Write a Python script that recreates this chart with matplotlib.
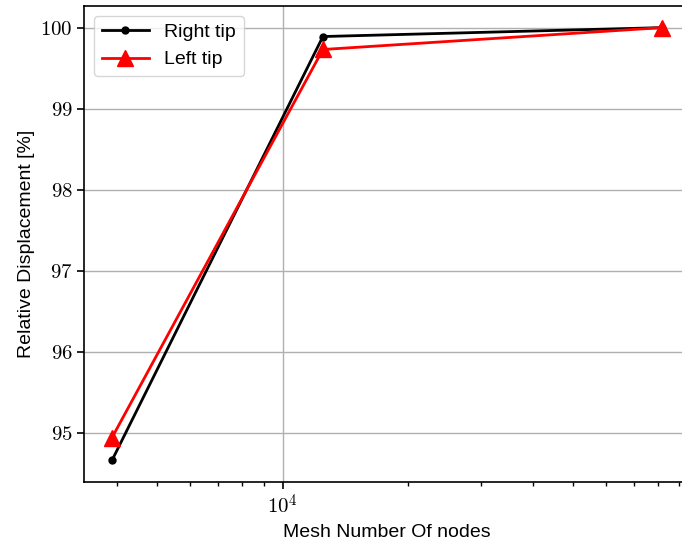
import numpy as np
import matplotlib
matplotlib.use('Agg')
from matplotlib import pyplot as plt
from matplotlib.ticker import FuncFormatter, LogLocator

# data
nodes = [3886, 12505, 81850]
right_tip = [94.66, 99.89, 100.0]
left_tip = [94.94, 99.73, 100.0]

plt.rcParams['mathtext.fontset'] = 'cm'
plt.rcParams['font.family'] = ['Liberation Sans', 'DejaVu Sans']

fig = plt.figure(figsize=(6.82, 5.44), dpi=100)
# axes runs slightly past the right edge, as in the cropped reference
ax = fig.add_axes([0.1239, 0.114, 0.887, 0.875])

ax.plot(nodes, right_tip, color='black', marker='.', markersize=10, linewidth=2, label='Right tip')
ax.plot(nodes, left_tip, color='red', marker='^', markersize=11, linewidth=2, label='Left tip')
ax.set_xscale('log')

ax.xaxis.set_major_locator(LogLocator(base=10))
ax.xaxis.set_major_formatter(FuncFormatter(lambda v, p: r'$10^{%d}$' % round(np.log10(v))))
ax.yaxis.set_major_formatter(FuncFormatter(lambda v, p: r'$%g$' % v))
ax.tick_params(axis='both', which='major', labelsize=15, length=5, width=1.2)
ax.tick_params(axis='x', which='minor', length=3, width=1.0)

ax.grid(True, which='major', color='#b0b0b0', linewidth=1)
ax.set_axisbelow(True)
for s in ax.spines.values():
    s.set_linewidth(1.2)

ax.set_xlabel('Mesh Number Of nodes', fontsize=14)
ax.set_ylabel('Relative Displacement [%]', fontsize=14)

leg = ax.legend(loc='upper left', fontsize=14, framealpha=0.8, edgecolor='#cccccc',
                handlelength=2.4)

plt.savefig('out.png', dpi=100)
